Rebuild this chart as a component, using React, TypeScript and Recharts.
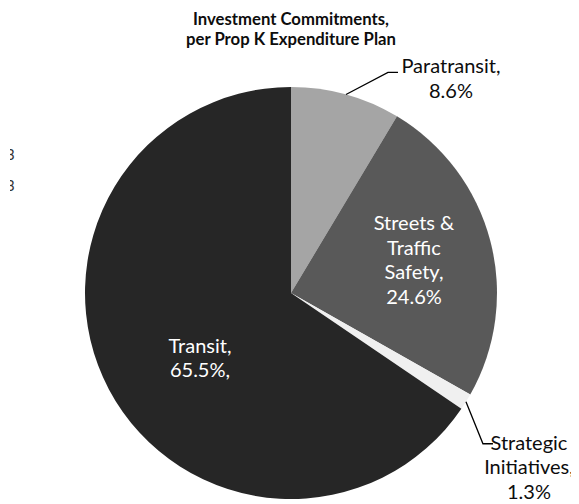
import React from 'react';
import { PieChart, Pie, Cell } from 'recharts';

const categories = ['Paratransit', 'Streets & Traffic Safety', 'Strategic Initiatives', 'Transit'];
const shares = [8.6, 24.6, 1.3, 65.5];
const labelLines: string[][] = [
  ['Paratransit,', '8.6%'],
  ['Streets &', 'Traffic', 'Safety,', '24.6%'],
  ['Strategic', 'Initiatives,', '1.3%'],
  ['Transit,', '65.5%,'],
];

const COLORS = ['#a5a5a5', '#595959', '#f0f0f0', '#262626'];

const W = 571;
const H = 496;
const CX = 283;
const CY = 285;
const R = 206;
const FONT = 'Lato, "Liberation Sans", sans-serif';
const RAD = Math.PI / 180;
const LINE_H = 24.5;

// inside labels: dx/dy of the block centre from the pie centre
// outside labels: leader line elbow + short tail, text centred at textDx/textDy from the tail end
const labelLayout: any[] = [
  { inside: false, elbowDx: 42, elbowDy: -22, tailDx: 10, textDx: 53, textDy: -7 },
  { inside: true, dx: 123, dy: -34 },
  { inside: false, elbowDx: 17, elbowDy: 42, tailDx: 10, textDx: 36, textDy: -2 },
  { inside: true, dx: -91, dy: 64 },
];

const chartData = categories.map((name, i) => ({ name, value: shares[i] }));

const renderLabel = (props: any) => {
  const { midAngle, index } = props;
  const lines = labelLines[index];
  const lay = labelLayout[index];
  if (lay.inside) {
    const x = CX + lay.dx;
    const y0 = CY + lay.dy - ((lines.length - 1) * LINE_H) / 2;
    return (
      <text x={x} y={y0} fill="#ffffff" fontSize={20} fontFamily={FONT} textAnchor="middle" dominantBaseline="central">
        {lines.map((l, i) => (
          <tspan key={i} x={x} y={y0 + i * LINE_H}>{l}</tspan>
        ))}
      </text>
    );
  }
  const sx = CX + R * Math.cos(-midAngle * RAD);
  const sy = CY + R * Math.sin(-midAngle * RAD);
  const ex = sx + lay.elbowDx;
  const ey = sy + lay.elbowDy;
  const tx = ex + lay.tailDx;
  const centerX = tx + lay.textDx;
  const firstY = ey + lay.textDy;
  return (
    <g>
      <polyline points={`${sx},${sy} ${ex},${ey} ${tx},${ey}`} fill="none" stroke="#000000" strokeWidth={1.3} />
      <text x={centerX} y={firstY} fill="#0d0d0d" fontSize={20} fontFamily={FONT} textAnchor="middle" dominantBaseline="central">
        {lines.map((l, i) => (
          <tspan key={i} x={centerX} y={firstY + i * LINE_H}>{l}</tspan>
        ))}
      </text>
    </g>
  );
};

export default function App() {
  return (
    <div style={{ width: W, height: H, background: '#ffffff' }}>
      <PieChart width={W} height={H} margin={{ top: 0, right: 0, bottom: 0, left: 0 }}>
        <defs>
          <clipPath id="edgeClip">
            <rect x={2} y={0} width={10} height={H} />
          </clipPath>
        </defs>
        <text x={CX} y={17} textAnchor="middle" fontSize={16.7} fontWeight="bold" fontFamily={FONT} fill="#0d0d0d">
          Investment Commitments,
        </text>
        <text x={CX} y={37} textAnchor="middle" fontSize={16.7} fontWeight="bold" fontFamily={FONT} fill="#0d0d0d">
          per Prop K Expenditure Plan
        </text>
        <g clipPath="url(#edgeClip)">
          <text x={-2} y={152} fontSize={15} fontFamily={FONT} fill="#333333">3</text>
          <text x={-2} y={183} fontSize={15} fontFamily={FONT} fill="#333333">3</text>
        </g>
        <Pie
          data={chartData}
          dataKey="value"
          nameKey="name"
          cx={CX}
          cy={CY}
          outerRadius={R}
          innerRadius={0}
          startAngle={90}
          endAngle={-270}
          stroke="none"
          labelLine={false}
          label={renderLabel}
          isAnimationActive={false}
        >
          {chartData.map((entry, index) => (
            <Cell key={`cell-${index}`} fill={COLORS[index]} />
          ))}
        </Pie>
      </PieChart>
    </div>
  );
}
